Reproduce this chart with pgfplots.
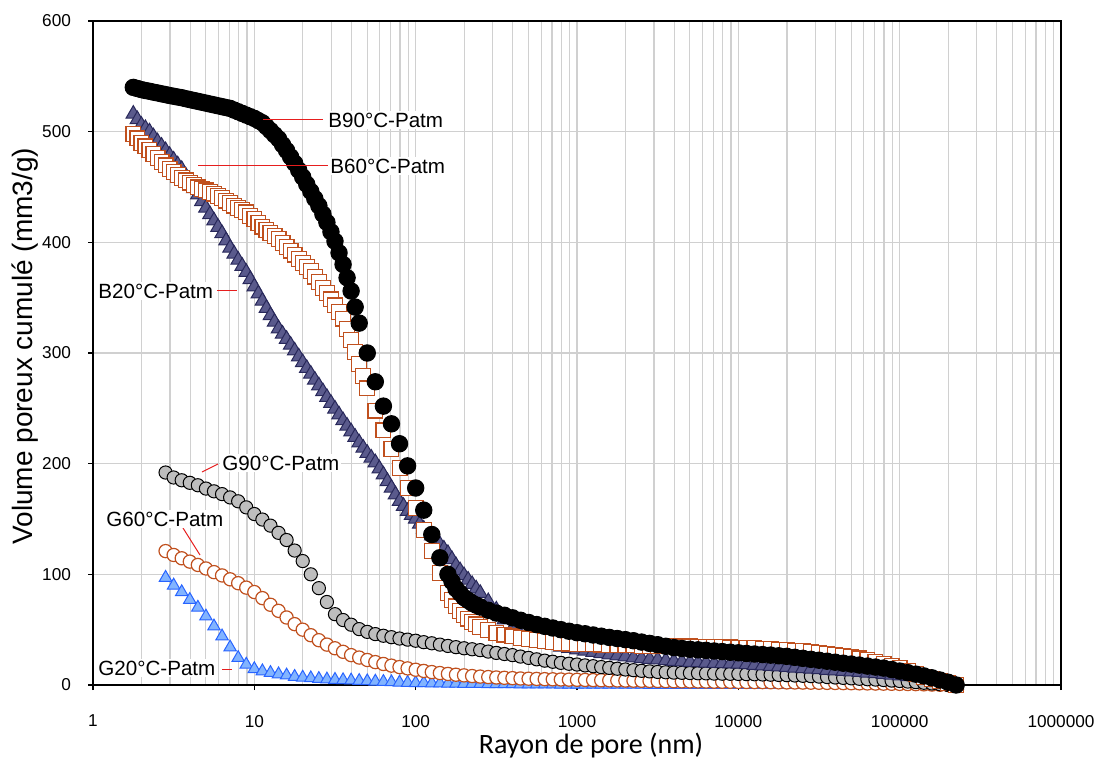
\documentclass[border=0pt]{standalone}
\usepackage{fontspec}
\setmainfont{Liberation Sans}
\newfontfamily\calibri{Carlito}
\usepackage{pgfplots}
\usepackage{pgfplotstable}
\pgfplotsset{compat=1.18}
\definecolor{bsq}{RGB}{192,80,30}
\definecolor{btri}{RGB}{90,90,140}
\definecolor{btriedge}{RGB}{40,40,90}
\definecolor{ggray}{RGB}{190,190,190}
\definecolor{gblue}{RGB}{130,180,255}
\definecolor{gblueedge}{RGB}{40,100,255}
\definecolor{gridc}{RGB}{208,208,208}
\definecolor{leader}{RGB}{230,30,30}

\pgfplotstableread{
x b90 b60 b20 g90 g60 g20
1.778 540 498 516 nan nan nan
1.884 539 494 511 nan nan nan
1.995 538 490 506 nan nan nan
2.113 537.2 486.7 503 nan nan nan
2.239 536.5 483.5 500 nan nan nan
2.371 535.7 479.7 495.5 nan nan nan
2.512 535 476 491 nan nan nan
2.661 534.2 472.7 487 nan nan nan
2.818 533.5 469.5 483 192 121 97
2.985 532.7 466.5 478.7 nan nan nan
3.162 532 463.5 474.5 187.5 117.5 90
3.350 531.3 460.7 470.2 nan nan nan
3.548 530.7 458 466 185 114.5 84
3.758 529.8 456 460.2 nan nan nan
3.981 529 454 454.5 182.7 111.5 77
4.217 528.2 451.8 448.7 nan nan nan
4.467 527.4 449.7 443 180.5 108.5 70
4.732 526.6 448.3 437 nan nan nan
5.012 525.8 447 431 177.5 105.3 62
5.309 525 445.5 425.2 nan nan nan
5.623 524.2 444 419.5 175 102 53
5.957 523.4 442 413.7 nan nan nan
6.310 522.6 440 408 172.5 99 44
6.683 521.8 437.7 401.5 nan nan nan
7.079 521 435.5 395 169.5 95.5 34
7.499 519.5 433.2 389.5 nan nan nan
7.943 518 431 384 166 92 24.5
8.414 516.5 429 378.5 nan nan nan
8.913 515 427 373 160.5 88 18.5
9.441 513.5 424 366.5 nan nan nan
10 512 421 360 154.5 84 14.5
10.59 510 417.6 353.5 nan nan nan
11.22 508 414.3 347 149.5 78.5 12.5
11.89 504.5 411.4 340.5 nan nan nan
12.59 501 408.5 334 144 72.5 11
13.34 497.2 405.7 328 nan nan nan
14.13 493.5 403 322 137.5 67 9.8
14.96 488.2 399.5 317.2 nan nan nan
15.85 483 396 312.5 131 61 8.7
16.79 477.2 392.5 307.2 nan nan nan
17.78 471.5 389 302 121.5 55 7.5
18.84 465.2 385.2 296.7 nan nan nan
19.95 459 381.5 291.5 112 50 6.8
21.13 452.5 377.7 286.2 nan nan nan
22.39 446 374 281 100 45 6.2
23.71 439.5 369 275.7 nan nan nan
25.12 433 364 270.5 87.5 40.5 5.6
26.61 425.5 359 265.2 nan nan nan
28.18 418 354 260 75 36.5 5.1
29.85 409.5 348.5 254.7 nan nan nan
31.62 401 343 249.5 64 33.2 4.8
33.50 390.5 337 244.2 nan nan nan
35.48 380 331 239 58.7 30 4.5
37.58 368 321.5 234 nan nan nan
39.81 356 312 229 54.5 27 4.2
42.17 341.5 301 224 nan nan nan
44.67 327 290 219 50.5 24.8 3.8
47.32 nan 279 214.2 nan nan nan
50.12 300 268 209.5 48 22.6 3.5
53.09 nan nan 205.2 nan nan nan
56.23 274 248 201 46 20.7 3.2
59.57 nan nan 195.5 nan nan nan
63.10 252 230 190 44.5 19 2.9
66.83 nan nan 184 nan nan nan
70.79 236 213 178 43.2 17.5 2.6
74.99 nan nan 172 nan nan nan
79.43 218 196 166 42 16.2 2.3
84.14 nan nan 161.5 nan nan nan
89.13 198 178 157 41 15 2
94.41 nan nan 153.5 nan nan nan
100 178 160 150 40 13.8 1.8
105.9 nan nan 145.5 nan nan nan
112.2 158 140 141 38.7 12.7 1.7
118.9 nan nan 138 nan nan nan
125.9 136 121 135 37.7 11.7 1.6
133.4 nan nan 131 nan nan nan
141.3 115 101 127 36.5 10.8 1.5
149.6 nan nan 123 nan nan nan
158.5 100 83 119 35.3 10 1.4
167.9 93.5 77 113.5 nan nan nan
177.8 87 71 108 34.2 9.3 1.3
188.4 83 67 103.5 nan nan nan
199.5 79 63 99 33.2 8.7 1.2
211.3 76.5 60 95 nan nan nan
223.9 74 57 91 32.3 8.1 1.1
237.1 72.2 54.7 87 nan nan nan
251.2 70.5 52.4 83 31.5 7.6 1
281.8 67.5 49.5 75.5 30.2 7.2 0.95
316.2 65 47.2 68 29 6.8 0.9
354.8 63 45.5 59 28 6.5 0.85
398.1 60.7 44 51 27 6.2 0.8
446.7 58.5 42.7 45 25.7 5.9 0.75
501.2 56.5 41.5 41 24.5 5.7 0.7
562.3 54.6 40.5 39 23.2 5.5 0.65
631.0 53 39.5 37.5 22 5.3 0.6
707.9 51.5 38.7 36 21 5.15 0.55
794.3 50 38 34.5 20 5 0.5
891.3 48.6 37.5 33.2 19.2 4.85 0.45
1000 47.3 37.2 32 18.5 4.7 0.4
1122 46.3 37 30.8 17.7 4.6 0.4
1259 45.2 36.7 29.7 17 4.45 0.4
1413 44.1 36.5 28.6 16.2 4.3 0.4
1585 43 36.3 27.5 15.5 4.2 0.4
1778 42 36.1 26.6 14.7 4.1 0.35
1995 41 35.9 25.7 14 4 0.35
2239 40 35.7 24.8 13.4 3.9 0.35
2512 38.8 35.5 24 12.8 3.8 0.35
2818 37.6 35.4 23.4 12.3 3.7 0.3
3162 36.4 35.2 22.8 11.8 3.6 0.3
3548 35 35.1 22.1 11.5 3.5 0.3
3981 33.8 35 21.5 11.2 3.4 0.3
4467 33 34.9 21.1 11 3.3 0.3
5012 32.3 34.8 20.7 10.8 3.25 0.25
5623 31.8 34.6 20.3 10.6 3.2 0.25
6310 31.3 34.5 20 10.5 3.1 0.25
7079 30.7 34.3 19.7 10.3 3 0.25
7943 30.2 34.1 19.5 10.2 2.95 0.2
8913 29.6 33.9 19.2 10.1 2.9 0.2
10000 29.1 33.8 19 10 2.8 0.2
11220 28.5 33.5 18.5 9.8 2.7 0.2
12590 28 33.2 18 9.7 2.65 0.2
14130 27.5 32.8 17.5 9.5 2.6 0.15
15850 27 32.5 17 9.3 2.5 0.15
17780 26.4 32 16.5 9.1 2.4 0.15
19950 25.9 31.5 16 8.9 2.35 0.15
22390 25 31 15.5 8.6 2.3 0.15
25120 24.1 30.5 15 8.3 2.2 0.1
28180 23.2 29.8 14.5 8 2.1 0.1
31620 22.4 29 14 7.6 2 0.1
35480 21.5 28.3 13.5 7.2 1.9 0.1
39810 20.6 27.5 13 6.8 1.8 0.1
44670 19.7 26.5 12.5 6.4 1.7 0.1
50120 18.9 25.3 12 6 1.6 0.05
56230 18 24 11.5 5.6 1.5 0.05
63100 17.1 22.5 11 5.2 1.4 0.05
70790 16.2 20.8 10.4 4.9 1.3 0.05
79430 15.3 19 9.8 4.5 1.2 0.05
89130 14 17.2 9.2 4 1.1 0.05
100000 12.6 15.5 8.5 3.6 1 0
112200 11.2 13 7.8 3.1 0.9 0
125900 9.8 10 7 2.6 0.8 0
141300 8.2 7.5 6 2 0.6 0
158500 6.5 5.5 5 1.4 0.4 0
177800 4.5 3.5 3.5 0.7 0.2 0
199500 2.5 1.5 2 0 0 0
223900 0 0 0 nan nan nan
}\datatable

\begin{document}
\begin{tikzpicture}
\useasboundingbox (-46.5pt,-38.5pt) rectangle (502.5pt,342.5pt);
\clip (-46.5pt,-38.5pt) rectangle (502.5pt,342.5pt);
\begin{axis}[
  scale only axis, width=484pt, height=332pt,
  xmode=log, xmin=1, xmax=1000000, ymin=0, ymax=600,
  clip=false,
  xtick={1,10,100,1000,10000,100000,1000000},
  xticklabels={1,10,100,1000,10000,100000,1000000},
  ytick={0,100,200,300,400,500,600},
  yticklabels={0,100,200,300,400,500,600},
  tick label style={font=\fontsize{8.6}{10}\selectfont, text=black},
  xticklabel style={yshift=-9pt},
  yticklabel style={xshift=-5pt},
  xmajorgrids, xminorgrids, ymajorgrids,
  grid style={gridc, line width=0.6pt},
  minor grid style={gridc, line width=0.6pt},
  tick align=outside, tick pos=left,
  major tick length=2.5pt, minor tick length=0pt,
  tick style={black, line width=0.8pt},
  axis line style={black, line width=0.9pt},
  xlabel={Rayon de pore (nm)},
  xlabel style={at={(axis description cs:0.5145,0)}, anchor=north, yshift=-24pt, inner sep=0pt, font=\calibri\fontsize{14}{16}\selectfont},
  ylabel={Volume poreux cumulé (mm3/g)},
  ylabel style={at={(axis description cs:-0.062,0.2108)}, anchor=base west, inner sep=0pt, font=\fontsize{14}{16}\selectfont},
]
\addplot[only marks, mark=triangle*, mark size=3.6pt, mark options={fill=gblue, draw=gblueedge, line width=0.5pt}] table[x=x,y=g20]{\datatable};
\addplot[only marks, mark=*, mark size=3.3pt, mark options={fill=white, draw=bsq, line width=0.6pt}] table[x=x,y=g60]{\datatable};
\addplot[only marks, mark=*, mark size=3.3pt, mark options={fill=ggray, draw=black, line width=0.5pt}] table[x=x,y=g90]{\datatable};
\addplot[only marks, mark=triangle*, mark size=4.2pt, mark options={fill=btri, draw=btriedge, line width=0.5pt}] table[x=x,y=b20]{\datatable};
\addplot[only marks, mark=square*, mark size=3.7pt, mark options={fill=white, draw=bsq, line width=0.6pt}] table[x=x,y=b60]{\datatable};
\addplot[only marks, mark=*, mark size=4.1pt, mark options={fill=black, draw=black, line width=0.5pt}] table[x=x,y=b90]{\datatable};
\end{axis}
\tikzset{lab/.style={font=\fontsize{10.3}{12}\selectfont, fill=white, inner sep=1pt, anchor=west}}
\draw[leader, line width=0.5pt] (85pt,282.5pt) -- (115pt,282.5pt);
\node[lab] at (116.5pt,282.5pt) {B90°C-Patm};
\draw[leader, line width=0.5pt] (52.5pt,259.5pt) -- (117.5pt,259.5pt);
\node[lab] at (117.5pt,259.5pt) {B60°C-Patm};
\draw[leader, line width=0.5pt] (62pt,197pt) -- (72pt,197pt);
\node[lab] at (1.5pt,197pt) {B20°C-Patm};
\draw[leader, line width=0.5pt] (54.5pt,106.5pt) -- (62.5pt,110.5pt);
\node[lab] at (63.5pt,111pt) {G90°C-Patm};
\draw[leader, line width=0.5pt] (45pt,78.5pt) -- (53.5pt,65pt);
\node[lab] at (5.5pt,83pt) {G60°C-Patm};
\draw[leader, line width=0.5pt] (64.5pt,8pt) -- (69.5pt,8pt);
\node[lab] at (1.5pt,8.5pt) {G20°C-Patm};
\end{tikzpicture}
\end{document}
